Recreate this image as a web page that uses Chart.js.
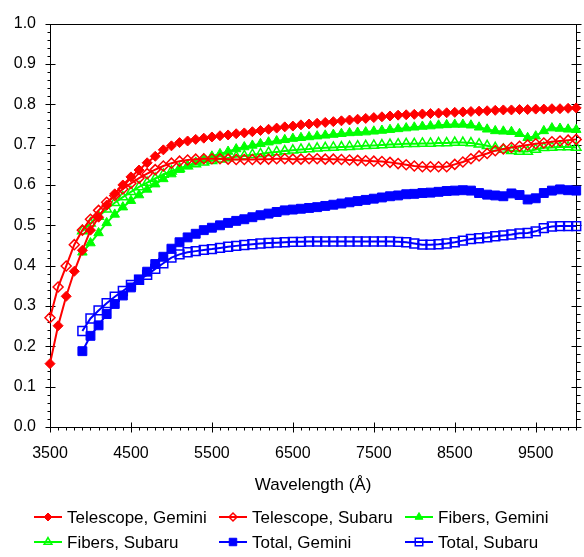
<!DOCTYPE html>
<html>
<head>
<meta charset="utf-8">
<script src="https://cdn.jsdelivr.net/npm/chart.js@4.4.1/dist/chart.umd.min.js"></script>
<style>
  html, body { margin: 0; padding: 0; background: #fff; }
</style>
</head>
<body>
<canvas id="throughput" width="584" height="557"></canvas>
<script>
// wavelength grid (Angstrom), one point every 100 A
const wavelength = [
  3500, 3600, 3700, 3800, 3900, 4000, 4100, 4200, 4300, 4400, 4500,
  4600, 4700, 4800, 4900, 5000, 5100, 5200, 5300, 5400, 5500,
  5600, 5700, 5800, 5900, 6000, 6100, 6200, 6300, 6400, 6500,
  6600, 6700, 6800, 6900, 7000, 7100, 7200, 7300, 7400, 7500,
  7600, 7700, 7800, 7900, 8000, 8100, 8200, 8300, 8400, 8500,
  8600, 8700, 8800, 8900, 9000, 9100, 9200, 9300, 9400, 9500,
  9600, 9700, 9800, 9900, 10000
];

const telescopeGemini = [
  0.157, 0.251, 0.324, 0.386, 0.438, 0.488, 0.520, 0.550, 0.578, 0.600, 0.620,
  0.637, 0.655, 0.671, 0.687, 0.697, 0.705, 0.709, 0.713, 0.716, 0.719,
  0.722, 0.724, 0.727, 0.729, 0.732, 0.735, 0.738, 0.741, 0.744, 0.746,
  0.749, 0.751, 0.753, 0.755, 0.757, 0.759, 0.761, 0.763, 0.765, 0.767,
  0.769, 0.771, 0.773, 0.774, 0.775, 0.776, 0.777, 0.778, 0.779, 0.780,
  0.781, 0.782, 0.783, 0.784, 0.785, 0.786, 0.786, 0.787, 0.787, 0.788,
  0.788, 0.789, 0.789, 0.790, 0.791
];

const telescopeSubaru = [
  0.271, 0.347, 0.399, 0.452, 0.488, 0.515, 0.537, 0.557, 0.574, 0.590, 0.604,
  0.617, 0.628, 0.638, 0.647, 0.654, 0.659, 0.662, 0.664, 0.665, 0.665,
  0.665, 0.664, 0.663, 0.663, 0.663, 0.664, 0.664, 0.665, 0.665, 0.664,
  0.664, 0.665, 0.665, 0.664, 0.664, 0.663, 0.662, 0.661, 0.660, 0.659,
  0.658, 0.656, 0.653, 0.650, 0.647, 0.645, 0.645, 0.645, 0.645, 0.651,
  0.657, 0.665, 0.672, 0.678, 0.685, 0.689, 0.693, 0.696, 0.699, 0.702,
  0.704, 0.707, 0.709, 0.711, 0.713
];

const fibersGemini = [
  null, null, null, null, 0.433, 0.456, 0.481, 0.506, 0.527, 0.545, 0.561,
  0.575, 0.589, 0.602, 0.615, 0.627, 0.638, 0.647, 0.656, 0.664, 0.671,
  0.677, 0.683, 0.689, 0.694, 0.698, 0.702, 0.706, 0.709, 0.712, 0.715,
  0.717, 0.719, 0.721, 0.723, 0.725, 0.727, 0.729, 0.730, 0.731, 0.733,
  0.735, 0.737, 0.739, 0.741, 0.743, 0.745, 0.746, 0.748, 0.749, 0.750,
  0.750, 0.748, 0.743, 0.738, 0.734, 0.733, 0.732, 0.727, 0.717, 0.721,
  0.734, 0.741, 0.740, 0.738, 0.737
];

const fibersSubaru = [
  null, null, null, null, 0.486, 0.505, 0.522, 0.540, 0.556, 0.570, 0.583,
  0.595, 0.606, 0.616, 0.626, 0.634, 0.641, 0.647, 0.652, 0.656, 0.660,
  0.664, 0.667, 0.670, 0.672, 0.675, 0.677, 0.680, 0.682, 0.684, 0.686,
  0.688, 0.689, 0.691, 0.692, 0.693, 0.694, 0.695, 0.696, 0.697, 0.698,
  0.699, 0.700, 0.701, 0.702, 0.702, 0.703, 0.703, 0.704, 0.704, 0.705,
  0.705, 0.704, 0.701, 0.697, 0.692, 0.688, 0.685, 0.683, 0.683, 0.688,
  0.692, 0.693, 0.694, 0.694, 0.693
];

const totalGemini = [
  null, null, null, null, 0.188, 0.226, 0.252, 0.280, 0.305, 0.326, 0.346,
  0.365, 0.385, 0.404, 0.422, 0.442, 0.458, 0.470, 0.479, 0.488, 0.494,
  0.500, 0.506, 0.511, 0.515, 0.520, 0.525, 0.529, 0.533, 0.537, 0.539,
  0.541, 0.543, 0.545, 0.548, 0.551, 0.554, 0.557, 0.560, 0.563, 0.566,
  0.569, 0.572, 0.574, 0.577, 0.578, 0.580, 0.581, 0.583, 0.585, 0.586,
  0.587, 0.586, 0.580, 0.576, 0.574, 0.572, 0.579, 0.575, 0.564, 0.567,
  0.580, 0.586, 0.589, 0.587, 0.586
];

const totalSubaru = [
  null, null, null, null, 0.238, 0.269, 0.289, 0.307, 0.323, 0.337, 0.352,
  0.365, 0.377, 0.392, 0.406, 0.420, 0.428, 0.433, 0.436, 0.439, 0.441,
  0.444, 0.447, 0.449, 0.451, 0.453, 0.455, 0.456, 0.457, 0.458, 0.459,
  0.459, 0.460, 0.460, 0.460, 0.460, 0.460, 0.460, 0.460, 0.460, 0.460,
  0.460, 0.460, 0.459, 0.458, 0.455, 0.452, 0.452, 0.453, 0.455, 0.458,
  0.462, 0.466, 0.468, 0.470, 0.473, 0.475, 0.477, 0.480, 0.481, 0.485,
  0.493, 0.497, 0.498, 0.498, 0.498
];

const xTickLabels = [3500, 4500, 5500, 6500, 7500, 8500, 9500];

Chart.defaults.font.family = '"Liberation Sans", Arial, sans-serif';
Chart.defaults.font.size = 16;
Chart.defaults.color = '#000';

function series(label, values, color, style, filled, radius) {
  return {
    label: label,
    data: wavelength.map((w, i) => ({ x: w, y: values[i] })).filter(p => p.y !== null),
    borderColor: color,
    backgroundColor: color,
    borderWidth: 2,
    pointStyle: style,
    pointRadius: radius,
    pointHoverRadius: radius,
    pointBorderWidth: filled ? 1 : 1.5,
    pointBorderColor: color,
    pointBackgroundColor: filled ? color : 'rgba(0,0,0,0)',
    tension: 0,
    fill: false,
    clip: false,
    legendRadius: radius - 1,
    filled: filled
  };
}

// black frame round the plot, ticks on the left, bottom and right sides
const frameTicks = {
  id: 'frameTicks',
  beforeDatasetsDraw(chart) {
    const { ctx, chartArea: a, scales: { x, y } } = chart;
    const L = Math.round(a.left) + 0.5, R = Math.round(a.right) + 0.5;
    const T = Math.round(a.top) + 0.5, B = Math.round(a.bottom) + 0.5;
    ctx.save();
    ctx.strokeStyle = '#000';
    ctx.lineWidth = 1;
    ctx.strokeRect(L, T, R - L, B - T);
    ctx.beginPath();
    for (let w = x.min; w <= x.max; w += 100) {
      const px = Math.round(x.getPixelForValue(w)) + 0.5;
      if ((w - 3500) % 1000 === 0) {
        ctx.moveTo(px, B - 5); ctx.lineTo(px, B + 5);
      } else {
        ctx.moveTo(px, B); ctx.lineTo(px, B + 3);
      }
    }
    for (let k = 0; k <= 50; k++) {
      const py = Math.round(y.getPixelForValue(k * 0.02)) + 0.5;
      if (k % 5 === 0) {
        ctx.moveTo(L - 5, py); ctx.lineTo(L + 5, py);
        ctx.moveTo(R - 5, py); ctx.lineTo(R + 5, py);
      } else {
        ctx.moveTo(L - 3, py); ctx.lineTo(L, py);
        ctx.moveTo(R, py); ctx.lineTo(R + 4, py);
      }
    }
    ctx.stroke();
    ctx.restore();
  }
};

// legend in three fixed columns under the axis title
const gridLegend = {
  id: 'gridLegend',
  afterDraw(chart) {
    const ctx = chart.ctx;
    const colX = [34, 219, 405];
    const rowY = [517, 542];
    ctx.save();
    chart.data.datasets.forEach((ds, i) => {
      const x0 = colX[i % 3];
      const yc = rowY[Math.floor(i / 3)];
      ctx.strokeStyle = ds.borderColor;
      ctx.lineWidth = 2;
      ctx.beginPath();
      ctx.moveTo(x0, yc);
      ctx.lineTo(x0 + 28, yc);
      ctx.stroke();
      ctx.fillStyle = ds.filled ? ds.borderColor : 'rgba(0,0,0,0)';
      ctx.lineWidth = ds.pointBorderWidth;
      Chart.helpers.drawPoint(ctx, { pointStyle: ds.pointStyle, radius: ds.legendRadius, borderWidth: ds.pointBorderWidth, rotation: 0 }, x0 + 14, yc);
      ctx.fillStyle = '#000';
      ctx.font = '17px "Liberation Sans", Arial, sans-serif';
      ctx.textBaseline = 'middle';
      ctx.textAlign = 'left';
      ctx.fillText(ds.label, x0 + 33, yc + 1);
    });
    ctx.restore();
  }
};

new Chart(document.getElementById('throughput'), {
  type: 'line',
  data: {
    datasets: [
      series('Telescope, Gemini', telescopeGemini, '#ff0000', 'rectRot', true, 5),
      series('Telescope, Subaru', telescopeSubaru, '#ff0000', 'rectRot', false, 5),
      series('Fibers, Gemini', fibersGemini, '#00ff00', 'triangle', true, 5.5),
      series('Fibers, Subaru', fibersSubaru, '#00ff00', 'triangle', false, 5.5),
      series('Total, Gemini', totalGemini, '#0000ff', 'rect', true, 6.3),
      series('Total, Subaru', totalSubaru, '#0000ff', 'rect', false, 6.3)
    ]
  },
  options: {
    responsive: false,
    animation: false,
    devicePixelRatio: 1,
    layout: { padding: { left: 0, top: 13, right: 7, bottom: 61 } },
    plugins: {
      legend: { display: false },
      tooltip: { enabled: false }
    },
    scales: {
      x: {
        type: 'linear',
        min: 3500,
        max: 10000,
        grid: { display: false, drawTicks: false },
        border: { display: false },
        afterBuildTicks: (scale) => { scale.ticks = xTickLabels.map(v => ({ value: v })); },
        afterFit: (scale) => { scale.height = 69; },
        ticks: { padding: 17, maxRotation: 0, autoSkip: false, callback: (v) => String(v) },
        title: {
          display: true,
          text: 'Wavelength (Å)',
          font: { size: 17 },
          padding: { top: 0, bottom: 0 }
        }
      },
      y: {
        min: 0,
        max: 1,
        grid: { display: false, drawTicks: false },
        border: { display: false },
        afterFit: (scale) => { scale.width = 50; },
        ticks: { stepSize: 0.1, padding: 14, callback: (v) => v.toFixed(1) }
      }
    }
  },
  plugins: [frameTicks, gridLegend]
});
</script>
</body>
</html>
